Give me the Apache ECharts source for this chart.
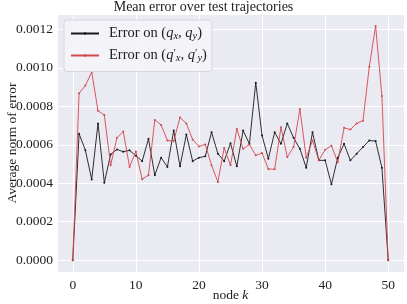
<!DOCTYPE html>
<html><head><meta charset="utf-8">
<script src="https://cdn.jsdelivr.net/npm/echarts@6/dist/echarts.min.js"></script>
<style>html,body{margin:0;padding:0;background:#fff}#c{width:407px;height:304px}</style>
</head><body><div id="c"></div>
<script>
const nodes = Array.from({length: 51}, (_, i) => i);
const errQ = [0, 0.000657, 0.000571, 0.000420, 0.000711, 0.000402, 0.000550, 0.000576, 0.000564, 0.000571,
  0.000543, 0.000515, 0.000631, 0.000442, 0.000533, 0.000485, 0.000674, 0.000488, 0.000653, 0.000515,
  0.000533, 0.000540, 0.000665, 0.000554, 0.000515, 0.000608, 0.000488, 0.000674, 0.000605, 0.000923,
  0.000648, 0.000528, 0.000665, 0.000605, 0.000711, 0.000636, 0.000579, 0.000481, 0.000665, 0.000519,
  0.000519, 0.000395, 0.000533, 0.000605, 0.000519, 0.000554, 0.000588, 0.000622, 0.000619, 0.000481, 0];
const errQp = [0, 0.000868, 0.000908, 0.000978, 0.000777, 0.000755, 0.000493, 0.000636, 0.000669, 0.000485,
  0.000565, 0.000421, 0.000442, 0.000729, 0.000703, 0.000622, 0.000619, 0.000742, 0.000711, 0.000627,
  0.000591, 0.000602, 0.000493, 0.000407, 0.000583, 0.000493, 0.000682, 0.000579, 0.000602, 0.000545,
  0.000557, 0.000474, 0.000473, 0.000691, 0.000536, 0.000588, 0.000786, 0.000533, 0.000622, 0.000519,
  0.000574, 0.000595, 0.000509, 0.000688, 0.000679, 0.000711, 0.000725, 0.001006, 0.001218, 0.000854, 0];
const xTickStep = 10;
const yTickStep = 0.0002;
const seriesNames = ['Error on (q_x, q_y)', "Error on (q'_x, q'_y)"];

const SERIF = '"Liberation Serif", "DejaVu Serif", serif';
const FS = 13.5;
const LFS = 14.5;
const chart = echarts.init(document.getElementById('c'), null, {renderer: 'canvas'});
const richBase = {
  n: {fontFamily: SERIF, fontSize: LFS, color: '#222', lineHeight: 16},
  i: {fontFamily: SERIF, fontSize: LFS, fontStyle: 'italic', color: '#222', lineHeight: 16},
  s: {fontFamily: SERIF, fontSize: 10.5, fontStyle: 'italic', color: '#222', verticalAlign: 'bottom', lineHeight: 5},
  p: {fontFamily: SERIF, fontSize: 11, color: '#222', verticalAlign: 'top', lineHeight: 9}
};
const richAxis = {
  n: {fontFamily: SERIF, fontSize: FS, color: '#222', lineHeight: 16},
  i: {fontFamily: SERIF, fontSize: FS, fontStyle: 'italic', color: '#222', lineHeight: 16}
};
function legendFmt(name) {
  if (name === seriesNames[0]) return '{n|Error on (}{i|q}{s|x}{n|, }{i|q}{s|y}{n|)}';
  return '{n|Error on (}{i|q}{p|′}{s|x}{n|, }{i|q}{p|′}{s|y}{n|)}';
}
const mkSeries = (name, vals, color) => ({
  name, type: 'line', data: nodes.map((k, j) => [k, vals[j]]),
  symbol: 'circle', symbolSize: 2, showSymbol: true,
  lineStyle: {color, width: 0.9}, itemStyle: {color},
  emphasis: {disabled: true}, animation: false
});
chart.setOption({
  backgroundColor: '#fff',
  animation: false,
  title: {text: 'Mean error over test trajectories', left: 'center', top: 0, padding: [0, 0, 0, 0], itemGap: 0,
    textStyle: {fontFamily: SERIF, fontSize: 14, fontWeight: 'normal', color: '#222'}},
  legend: {
    orient: 'vertical', left: 64, top: 20, padding: [6, 5, 8, 6],
    itemWidth: 28, itemHeight: 3, itemGap: 6,
    backgroundColor: 'rgba(245,245,249,0.85)', borderColor: '#d6d6dc', borderWidth: 1, borderRadius: 3,
    formatter: legendFmt,
    textStyle: {padding: [0, 0, 0, 5], rich: richBase},
    data: seriesNames
  },
  grid: {left: 57, right: 3, top: 14, bottom: 32, containLabel: false, outerBoundsMode: 'none', show: true,
    backgroundColor: '#EAEAF2', borderWidth: 0},
  xAxis: {
    type: 'value', min: -2.5, max: 52.5, minInterval: xTickStep, maxInterval: xTickStep, splitNumber: 5,
    axisLine: {show: false}, axisTick: {show: false},
    axisLabel: {showMinLabel: false, showMaxLabel: false, hideOverlap: false, margin: 6, fontFamily: SERIF, fontSize: FS, color: '#222',
      formatter: v => String(Math.round(v))},
    splitLine: {show: true, lineStyle: {color: '#fff', width: 1}},
    name: '{n|node }{i|k}', nameLocation: 'middle', nameGap: 15, nameMoveOverlap: false,
    nameTextStyle: {rich: richAxis}
  },
  yAxis: {
    type: 'value', min: -0.0000615, max: 0.00128, minInterval: yTickStep, maxInterval: yTickStep, splitNumber: 7,
    axisLine: {show: false}, axisTick: {show: false},
    axisLabel: {showMinLabel: false, showMaxLabel: false, hideOverlap: false, margin: 4, fontFamily: SERIF, fontSize: FS, color: '#222',
      formatter: v => v.toFixed(4)},
    splitLine: {show: true, lineStyle: {color: '#fff', width: 1}},
    name: 'Average norm of error', nameLocation: 'middle', nameGap: 38, nameRotate: 90, nameMoveOverlap: false,
    nameTextStyle: {fontFamily: SERIF, fontSize: FS, color: '#222'}
  },
  series: [mkSeries(seriesNames[0], errQ, '#1a1a1a'), mkSeries(seriesNames[1], errQp, '#d4474e')]
});
</script></body></html>
